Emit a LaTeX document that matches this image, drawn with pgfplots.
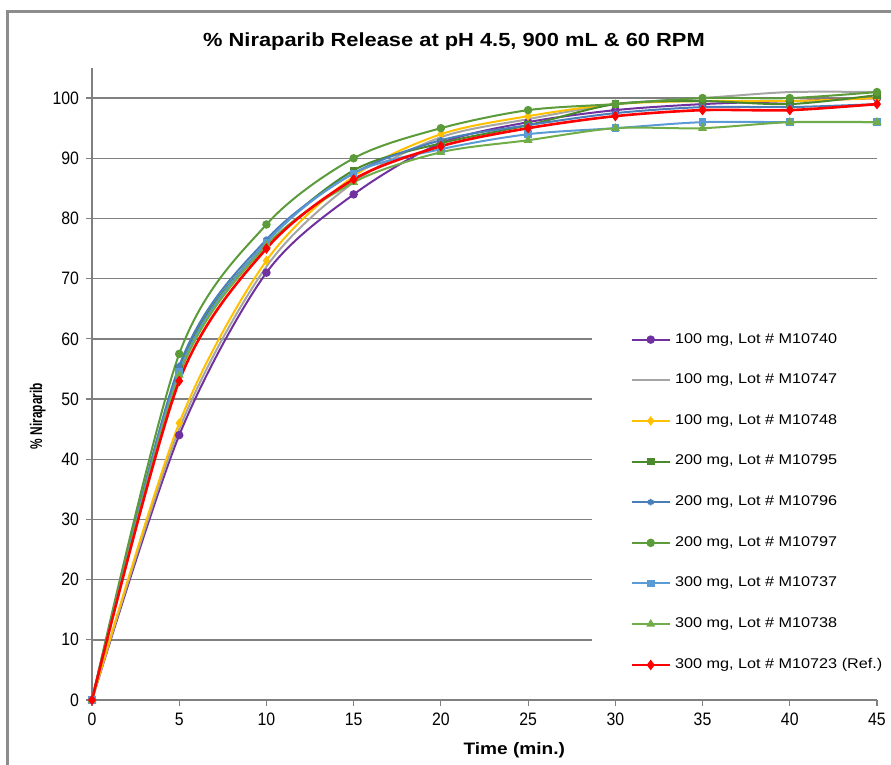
\documentclass[border=0pt]{standalone}
\usepackage{fontspec}
\setmainfont{Liberation Sans}
\newfontfamily\narrowfont{Liberation Sans}[FakeStretch=0.88]
\newfontfamily\widefont{Liberation Sans}[FakeStretch=1.15]
\newfontfamily\ylabfont{Liberation Sans}[FakeStretch=0.7]
\usepackage{pgfplots}
\pgfplotsset{compat=1.18}
\definecolor{cPurple}{HTML}{7030A0}
\definecolor{cGrey}{HTML}{A5A5A5}
\definecolor{cYellow}{HTML}{FFC000}
\definecolor{cDkGreen}{HTML}{4A8A2C}
\definecolor{cSteel}{HTML}{4A7EBB}
\definecolor{cGreen}{HTML}{5B9B3A}
\definecolor{cLtBlue}{HTML}{5B9BD5}
\definecolor{cLtGreen}{HTML}{70AD47}
\definecolor{cRed}{HTML}{FF0000}
\definecolor{cAxis}{HTML}{808080}

\begin{document}
\begin{tikzpicture}
\begin{axis}[
  at={(0,0)}, anchor=south west,
  scale only axis, width=392.5pt, height=316pt,
  xmin=0, xmax=45, ymin=0, ymax=105,
  xtick={0,5,...,45}, ytick={0,10,...,100},
  axis x line=bottom, axis y line=left,
  axis line style={draw=cAxis, line width=0.6pt, -},
  tick align=outside, major tick length=3pt,
  tick style={draw=cAxis, line width=0.6pt},
  ymajorgrids, grid style={draw=cAxis, line width=0.7pt},
  /pgf/number format/assume math mode=true,
  tick label style={font=\narrowfont\fontsize{9}{10}\selectfont},
  xlabel={Time (min.)}, ylabel={\% Niraparib},
  x label style={font=\widefont\fontsize{8.3}{10}\selectfont\bfseries, at={(axis description cs:0.538,-0.079)}, anchor=center},
  y label style={font=\ylabfont\fontsize{8.5}{10}\selectfont\bfseries, at={(axis description cs:-0.069,0.449)}, anchor=center},
  every axis plot/.append style={line width=1pt, smooth, tension=0.5},
  mark size=1.6pt,
  legend style={at={(0.637,0.6)}, anchor=north west, fill=white, draw=none,
    inner xsep=19pt, inner ysep=4pt, row sep=9.9pt,
    font=\widefont\fontsize{7.05}{7.5}\selectfont, cells={anchor=west}},
  legend image code/.code={\draw[mark repeat=2,mark phase=2] plot coordinates {(0pt,0pt) (9.5pt,0pt) (19pt,0pt)};},
]
\addplot[cPurple, mark=*, mark options={solid}] coordinates {(0,0) (5,44) (10,71) (15,84) (20,92.5) (25,96) (30,98) (35,99) (40,99.5) (45,100)};
\addlegendentry{100 mg, Lot \# M10740}
\addplot[cGrey, no marks] coordinates {(0,0) (5,45) (10,72) (15,86) (20,93.5) (25,96.5) (30,99) (35,100) (40,101) (45,101)};
\addlegendentry{100 mg, Lot \# M10747}
\addplot[cYellow, mark=diamond*, mark options={solid}] coordinates {(0,0) (5,46) (10,73) (15,87) (20,94) (25,97) (30,99) (35,99.5) (40,99.5) (45,100)};
\addlegendentry{100 mg, Lot \# M10748}
\addplot[cDkGreen, mark=square*, mark size=1.4pt] coordinates {(0,0) (5,55) (10,76) (15,88) (20,92.5) (25,95.5) (30,99) (35,99.5) (40,99) (45,100.5)};
\addlegendentry{200 mg, Lot \# M10795}
\addplot[cSteel, mark=asterisk] coordinates {(0,0) (5,55.5) (10,76.5) (15,87.5) (20,93) (25,95.5) (30,97.5) (35,98.5) (40,98.5) (45,99)};
\addlegendentry{200 mg, Lot \# M10796}
\addplot[cGreen, mark=*] coordinates {(0,0) (5,57.5) (10,79) (15,90) (20,95) (25,98) (30,99) (35,100) (40,100) (45,101)};
\addlegendentry{200 mg, Lot \# M10797}
\addplot[cLtBlue, mark=square*, mark size=1.4pt] coordinates {(0,0) (5,54.5) (10,76) (15,87.5) (20,91.5) (25,94) (30,95) (35,96) (40,96) (45,96)};
\addlegendentry{300 mg, Lot \# M10737}
\addplot[cLtGreen, mark=triangle*] coordinates {(0,0) (5,54) (10,75.5) (15,86) (20,91) (25,93) (30,95) (35,95) (40,96) (45,96)};
\addlegendentry{300 mg, Lot \# M10738}
\addplot[cRed, mark=diamond*, line width=1.3pt] coordinates {(0,0) (5,53) (10,75) (15,86.5) (20,92) (25,95) (30,97) (35,98) (40,98) (45,99)};
\addlegendentry{300 mg, Lot \# M10723 (Ref.)}
\end{axis}
\node[font=\widefont\fontsize{9.5}{12}\selectfont\bfseries] at (181pt,329pt) {\% Niraparib Release at pH 4.5, 900 mL \& 60 RPM};
\draw[cAxis!90, line width=1.5pt] (-42pt,-40pt) -- (-42pt,344pt) -- (405pt,344pt);
\pgfresetboundingbox
\path[use as bounding box] (-46pt,-32.5pt) rectangle (399.5pt,350pt);
\end{tikzpicture}
\end{document}
